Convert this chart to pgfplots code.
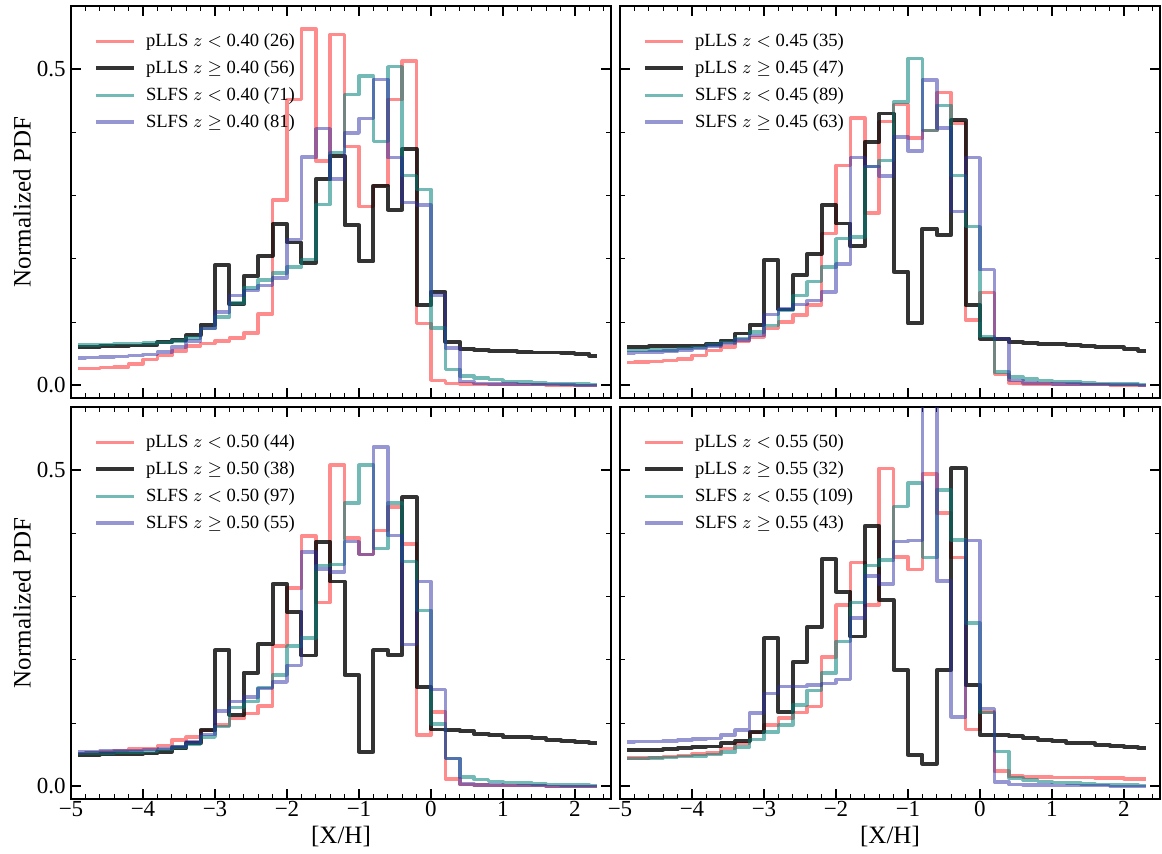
\documentclass[border=0pt]{standalone}
\usepackage{fontspec}
\setmainfont{Liberation Serif}
\usepackage{pgfplots}
\pgfplotsset{compat=1.18}
\usepackage{pgfplotstable}

\definecolor{cred}{RGB}{255,0,0}
\definecolor{cteal}{RGB}{0,128,120}
\definecolor{cpurp}{RGB}{45,45,165}

\pgfplotstableread{
x r k t p
-4.9 0.027 0.061 0.064 0.043
-4.7 0.027 0.061 0.064 0.044
-4.5 0.028 0.062 0.065 0.045
-4.3 0.029 0.062 0.066 0.046
-4.1 0.034 0.063 0.066 0.047
-3.9 0.041 0.064 0.067 0.049
-3.7 0.047 0.068 0.068 0.053
-3.5 0.054 0.072 0.070 0.061
-3.3 0.062 0.079 0.075 0.070
-3.1 0.066 0.096 0.090 0.090
-2.9 0.070 0.190 0.108 0.116
-2.7 0.075 0.128 0.130 0.142
-2.5 0.083 0.173 0.154 0.150
-2.3 0.113 0.205 0.167 0.158
-2.1 0.293 0.255 0.178 0.170
-1.9 0.452 0.226 0.187 0.231
-1.7 0.564 0.194 0.199 0.361
-1.5 0.355 0.326 0.286 0.406
-1.3 0.555 0.363 0.368 0.326
-1.1 0.378 0.253 0.460 0.399
-0.9 0.283 0.196 0.489 0.422
-0.7 0.316 0.316 0.386 0.484
-0.5 0.452 0.278 0.504 0.360
-0.3 0.513 0.374 0.332 0.289
-0.1 0.098 0.127 0.310 0.285
0.1 0.008 0.148 0.091 0.143
0.3 0.003 0.069 0.025 0.059
0.5 0.002 0.058 0.015 0.006
0.7 0.001 0.056 0.012 0.003
0.9 0.001 0.054 0.009 0.002
1.1 0.001 0.054 0.006 0.002
1.3 0.001 0.053 0.005 0.001
1.5 0.001 0.052 0.004 0.001
1.7 0.000 0.052 0.003 0.001
1.9 0.000 0.051 0.002 0.001
2.1 0.000 0.050 0.002 0.000
2.3 0.000 0.047 0.001 0.000
}\pA

\pgfplotstableread{
x r k t p
-4.9 0.036 0.061 0.055 0.051
-4.7 0.037 0.061 0.055 0.052
-4.5 0.038 0.062 0.056 0.053
-4.3 0.039 0.062 0.056 0.054
-4.1 0.042 0.062 0.058 0.056
-3.9 0.047 0.063 0.060 0.058
-3.7 0.055 0.066 0.064 0.062
-3.5 0.061 0.071 0.068 0.066
-3.3 0.069 0.082 0.074 0.072
-3.1 0.076 0.096 0.084 0.079
-2.9 0.090 0.198 0.095 0.112
-2.7 0.100 0.120 0.119 0.121
-2.5 0.111 0.174 0.142 0.128
-2.3 0.127 0.208 0.164 0.134
-2.1 0.240 0.285 0.187 0.148
-1.9 0.348 0.256 0.232 0.192
-1.7 0.423 0.220 0.235 0.360
-1.5 0.273 0.385 0.346 0.346
-1.3 0.417 0.430 0.356 0.331
-1.1 0.444 0.180 0.448 0.393
-0.9 0.391 0.098 0.517 0.371
-0.7 0.403 0.248 0.403 0.483
-0.5 0.463 0.238 0.443 0.407
-0.3 0.415 0.419 0.332 0.275
-0.1 0.103 0.127 0.251 0.360
0.1 0.147 0.074 0.077 0.183
0.3 0.017 0.074 0.021 0.074
0.5 0.004 0.069 0.013 0.008
0.7 0.002 0.067 0.010 0.004
0.9 0.002 0.066 0.008 0.003
1.1 0.001 0.065 0.006 0.002
1.3 0.001 0.064 0.005 0.002
1.5 0.001 0.062 0.004 0.001
1.7 0.001 0.061 0.003 0.001
1.9 0.000 0.060 0.002 0.001
2.1 0.000 0.057 0.002 0.001
2.3 0.000 0.055 0.001 0.000
}\pB

\pgfplotstableread{
x r k t p
-4.9 0.052 0.050 0.052 0.054
-4.7 0.053 0.050 0.053 0.055
-4.5 0.054 0.051 0.053 0.056
-4.3 0.057 0.051 0.054 0.057
-4.1 0.059 0.051 0.054 0.057
-3.9 0.060 0.052 0.055 0.058
-3.7 0.065 0.055 0.058 0.060
-3.5 0.073 0.060 0.062 0.063
-3.3 0.078 0.068 0.066 0.070
-3.1 0.088 0.089 0.078 0.082
-2.9 0.097 0.215 0.095 0.119
-2.7 0.107 0.113 0.125 0.134
-2.5 0.115 0.180 0.134 0.141
-2.3 0.127 0.225 0.156 0.155
-2.1 0.222 0.320 0.176 0.165
-1.9 0.314 0.276 0.222 0.191
-1.7 0.396 0.207 0.235 0.371
-1.5 0.291 0.387 0.349 0.344
-1.3 0.508 0.324 0.351 0.339
-1.1 0.393 0.176 0.448 0.387
-0.9 0.367 0.055 0.508 0.367
-0.7 0.405 0.215 0.376 0.537
-0.5 0.442 0.208 0.448 0.397
-0.3 0.383 0.457 0.356 0.224
-0.1 0.081 0.157 0.278 0.324
0.1 0.118 0.090 0.099 0.153
0.3 0.012 0.089 0.044 0.044
0.5 0.003 0.087 0.015 0.004
0.7 0.002 0.083 0.011 0.002
0.9 0.001 0.081 0.008 0.002
1.1 0.001 0.078 0.006 0.001
1.3 0.001 0.078 0.005 0.001
1.5 0.001 0.076 0.004 0.001
1.7 0.000 0.074 0.003 0.000
1.9 0.000 0.072 0.002 0.000
2.1 0.000 0.070 0.002 0.000
2.3 0.000 0.068 0.001 0.000
}\pC

\pgfplotstableread{
x r k t p
-4.9 0.045 0.057 0.044 0.070
-4.7 0.045 0.057 0.044 0.071
-4.5 0.046 0.058 0.045 0.071
-4.3 0.047 0.059 0.046 0.072
-4.1 0.049 0.061 0.047 0.073
-3.9 0.051 0.062 0.048 0.075
-3.7 0.053 0.063 0.050 0.076
-3.5 0.060 0.068 0.054 0.081
-3.3 0.068 0.072 0.062 0.089
-3.1 0.085 0.086 0.074 0.116
-2.9 0.097 0.234 0.086 0.147
-2.7 0.108 0.117 0.097 0.158
-2.5 0.117 0.197 0.129 0.158
-2.3 0.126 0.252 0.152 0.160
-2.1 0.205 0.359 0.179 0.163
-1.9 0.287 0.308 0.229 0.169
-1.7 0.354 0.237 0.291 0.266
-1.5 0.287 0.412 0.349 0.333
-1.3 0.503 0.295 0.358 0.320
-1.1 0.363 0.184 0.443 0.387
-0.9 0.343 0.050 0.480 0.389
-0.7 0.494 0.036 0.362 0.750
-0.5 0.432 0.184 0.469 0.325
-0.3 0.362 0.503 0.390 0.110
-0.1 0.090 0.160 0.258 0.389
0.1 0.118 0.081 0.117 0.123
0.3 0.024 0.081 0.055 0.007
0.5 0.016 0.079 0.013 0.003
0.7 0.015 0.076 0.010 0.002
0.9 0.015 0.074 0.008 0.002
1.1 0.014 0.072 0.006 0.001
1.3 0.014 0.069 0.005 0.001
1.5 0.014 0.068 0.004 0.001
1.7 0.013 0.066 0.003 0.001
1.9 0.013 0.064 0.002 0.000
2.1 0.012 0.062 0.002 0.000
2.3 0.012 0.060 0.001 0.000
}\pD

\pgfplotsset{
  panel/.style={
    scale only axis, width=270pt, height=196pt,
    xmin=-5, xmax=2.5, ymin=-0.02, ymax=0.6,
    xtick={-5,-4,-3,-2,-1,0,1,2},
    minor xtick={-4.8,-4.6,-4.4,-4.2,-3.8,-3.6,-3.4,-3.2,-2.8,-2.6,-2.4,-2.2,-1.8,-1.6,-1.4,-1.2,-0.8,-0.6,-0.4,-0.2,0.2,0.4,0.6,0.8,1.2,1.4,1.6,1.8,2.2,2.4},
    ytick={0,0.5}, minor ytick={0.1,0.2,0.3,0.4},
    tick align=inside, tick pos=both,
    major tick length=5pt, minor tick length=2.5pt,
    every major tick/.append style={line width=0.9pt, black},
    every minor tick/.append style={line width=0.5pt, black},
    axis line style={line width=0.7pt},
    tick label style={font=\fontsize{11.5}{13}\selectfont},
    xticklabel style={inner sep=1pt},
    yticklabel style={inner sep=2.5pt},
    label style={font=\fontsize{12.5}{14}\selectfont},
    ylabel style={at={(axis description cs:-0.0907,0.5)}, anchor=center},
    xlabel style={at={(axis description cs:0.5,-0.096)}, anchor=center},
    legend style={draw=none, fill=none, at={(0.042,0.941)}, anchor=north west,
      font=\fontsize{9.3}{11}\selectfont, inner sep=0pt, row sep=1.5pt},
    legend cell align=left,
    legend image code/.code={\draw[##1] (0pt,0pt) -- (19pt,0pt); \path[draw=none,fill=none] (0pt,0pt) rectangle (23pt,0pt);},
  },
  sr/.style={draw=cred, draw opacity=0.45, line width=1.75pt, const plot mark mid, line join=round, no marks},
  sk/.style={draw=black, draw opacity=0.8, line width=1.95pt, const plot mark mid, line join=round, no marks},
  st/.style={draw=cteal, draw opacity=0.55, line width=1.75pt, const plot mark mid, line join=round, no marks},
  sp/.style={draw=cpurp, draw opacity=0.5, line width=1.75pt, const plot mark mid, line join=round, no marks},
}

\begin{document}
\begin{tikzpicture}
\useasboundingbox (-35.5pt,-27pt) rectangle (545.5pt,399.5pt);

\begin{axis}[panel, at={(0pt,200.5pt)}, anchor=south west,
  xticklabels={}, yticklabels={0.0,0.5}, ylabel={Normalized PDF}]
\addplot[sr] table[x=x,y=r]{\pA}; \addlegendentry{pLLS $z<$ 0.40 (26)}
\addplot[sk] table[x=x,y=k]{\pA}; \addlegendentry{pLLS $z\geq$ 0.40 (56)}
\addplot[st] table[x=x,y=t]{\pA}; \addlegendentry{SLFS $z<$ 0.40 (71)}
\addplot[sp] table[x=x,y=p]{\pA}; \addlegendentry{SLFS $z\geq$ 0.40 (81)}
\end{axis}

\begin{axis}[panel, at={(274.5pt,200.5pt)}, anchor=south west,
  xticklabels={}, yticklabels={}]
\addplot[sr] table[x=x,y=r]{\pB}; \addlegendentry{pLLS $z<$ 0.45 (35)}
\addplot[sk] table[x=x,y=k]{\pB}; \addlegendentry{pLLS $z\geq$ 0.45 (47)}
\addplot[st] table[x=x,y=t]{\pB}; \addlegendentry{SLFS $z<$ 0.45 (89)}
\addplot[sp] table[x=x,y=p]{\pB}; \addlegendentry{SLFS $z\geq$ 0.45 (63)}
\end{axis}

\begin{axis}[panel, at={(0pt,0pt)}, anchor=south west,
  xticklabels={−5,−4,−3,−2,−1,0,1,2}, yticklabels={0.0,0.5},
  ylabel={Normalized PDF}, xlabel={[X/H]}]
\addplot[sr] table[x=x,y=r]{\pC}; \addlegendentry{pLLS $z<$ 0.50 (44)}
\addplot[sk] table[x=x,y=k]{\pC}; \addlegendentry{pLLS $z\geq$ 0.50 (38)}
\addplot[st] table[x=x,y=t]{\pC}; \addlegendentry{SLFS $z<$ 0.50 (97)}
\addplot[sp] table[x=x,y=p]{\pC}; \addlegendentry{SLFS $z\geq$ 0.50 (55)}
\end{axis}

\begin{axis}[panel, at={(274.5pt,0pt)}, anchor=south west,
  xticklabels={−5,−4,−3,−2,−1,0,1,2}, yticklabels={}, xlabel={[X/H]}]
\addplot[sr] table[x=x,y=r]{\pD}; \addlegendentry{pLLS $z<$ 0.55 (50)}
\addplot[sk] table[x=x,y=k]{\pD}; \addlegendentry{pLLS $z\geq$ 0.55 (32)}
\addplot[st] table[x=x,y=t]{\pD}; \addlegendentry{SLFS $z<$ 0.55 (109)}
\addplot[sp] table[x=x,y=p]{\pD}; \addlegendentry{SLFS $z\geq$ 0.55 (43)}
\end{axis}
\end{tikzpicture}
\end{document}
